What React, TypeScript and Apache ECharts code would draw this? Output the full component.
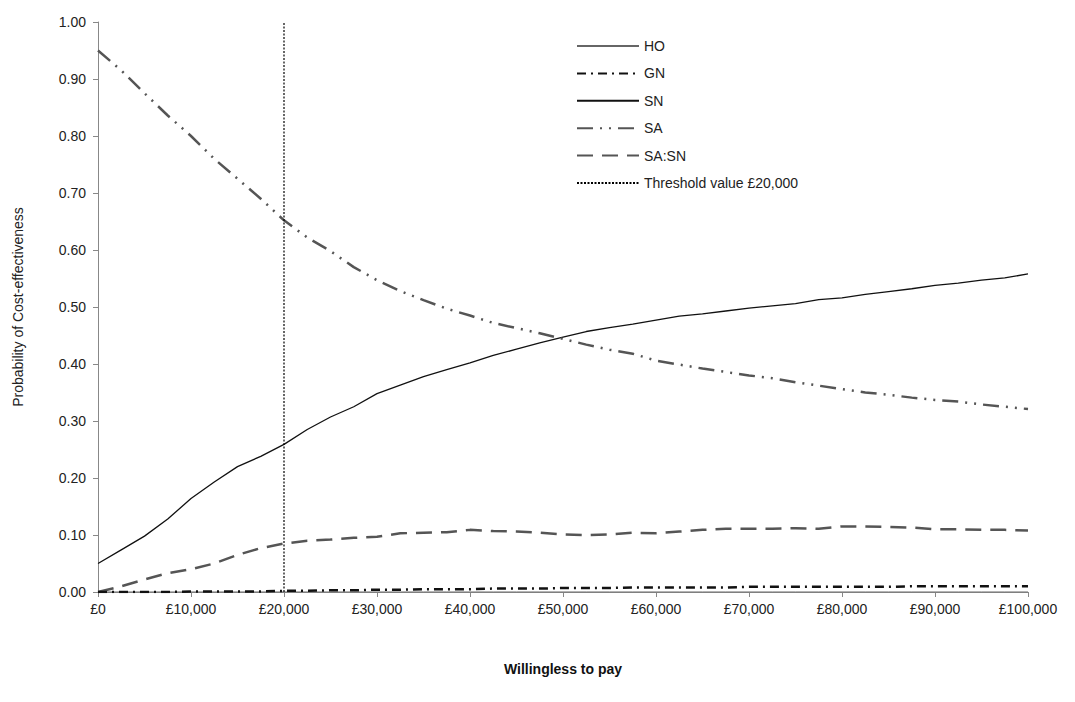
import React, { useEffect, useRef } from "react";
import * as echarts from "echarts";

const wtp = [0, 2500, 5000, 7500, 10000, 12500, 15000, 17500, 20000, 22500, 25000, 27500, 30000, 32500, 35000, 37500, 40000, 42500, 45000, 47500, 50000, 52500, 55000, 57500, 60000, 62500, 65000, 67500, 70000, 72500, 75000, 77500, 80000, 82500, 85000, 87500, 90000, 92500, 95000, 97500, 100000];

const HO = [0, 0, 0, 0, 0, 0, 0, 0, 0, 0, 0, 0, 0, 0, 0, 0, 0, 0, 0, 0, 0, 0, 0, 0, 0, 0, 0, 0, 0, 0, 0, 0, 0, 0, 0, 0, 0, 0, 0, 0, 0];
const GN = [0, 0, 0, 0, 0.001, 0.001, 0.001, 0.001, 0.002, 0.002, 0.003, 0.003, 0.004, 0.004, 0.005, 0.005, 0.005, 0.006, 0.006, 0.006, 0.007, 0.007, 0.007, 0.008, 0.008, 0.008, 0.008, 0.008, 0.009, 0.009, 0.009, 0.009, 0.009, 0.009, 0.009, 0.01, 0.01, 0.01, 0.01, 0.01, 0.01];
const SN = [0.05, 0.074, 0.098, 0.128, 0.164, 0.193, 0.22, 0.238, 0.259, 0.285, 0.307, 0.325, 0.348, 0.363, 0.378, 0.39, 0.402, 0.415, 0.426, 0.437, 0.447, 0.457, 0.464, 0.47, 0.477, 0.484, 0.488, 0.493, 0.498, 0.502, 0.506, 0.513, 0.516, 0.522, 0.527, 0.532, 0.538, 0.542, 0.547, 0.551, 0.558];
const SA = [0.95, 0.915, 0.875, 0.836, 0.8, 0.76, 0.725, 0.69, 0.652, 0.622, 0.598, 0.57, 0.547, 0.528, 0.512, 0.497, 0.485, 0.472, 0.463, 0.454, 0.444, 0.434, 0.425, 0.418, 0.406, 0.399, 0.392, 0.386, 0.38, 0.375, 0.368, 0.362, 0.356, 0.35, 0.346, 0.341, 0.337, 0.334, 0.329, 0.325, 0.321];
const SASN = [0, 0.01, 0.022, 0.033, 0.04, 0.05, 0.065, 0.077, 0.085, 0.09, 0.092, 0.095, 0.097, 0.103, 0.104, 0.105, 0.109, 0.107, 0.106, 0.104, 0.101, 0.1, 0.101, 0.104, 0.103, 0.106, 0.109, 0.111, 0.111, 0.111, 0.112, 0.111, 0.115, 0.115, 0.114, 0.113, 0.11, 0.11, 0.109, 0.109, 0.108];
const thresholdX = [20000, 20000];
const thresholdY = [0, 1];

const pair = (xs: number[], ys: number[]) => xs.map((x, i) => [x, ys[i]]);

const FONT = "'Liberation Sans', Arial, sans-serif";

export default function App() {
  const ref = useRef<HTMLDivElement>(null);
  useEffect(() => {
    if (!ref.current) return;
    const chart = echarts.init(ref.current, undefined, { renderer: "svg" });
    chart.setOption({
      animation: false,
      backgroundColor: "#ffffff",
      textStyle: { fontFamily: FONT },
      grid: { left: 98, right: 47, top: 22, bottom: 110, containLabel: false },
      legend: {
        orient: "vertical",
        left: 571,
        top: 34,
        itemWidth: 62,
        itemHeight: 14,
        itemGap: 13.4,
        itemStyle: { opacity: 0 },
        textStyle: { fontFamily: FONT, fontSize: 14, color: "#222" },
        data: ["HO", "GN", "SN", "SA", "SA:SN", "Threshold value £20,000"],
      },
      xAxis: {
        type: "value",
        min: 0,
        max: 100000,
        interval: 10000,
        name: "Willingless to pay",
        nameLocation: "middle",
        nameGap: 70,
        nameTextStyle: { fontFamily: FONT, fontSize: 14, fontWeight: "bold", color: "#111" },
        axisLine: { show: true, lineStyle: { color: "#888", width: 1 } },
        axisTick: { show: true, length: 5, lineStyle: { color: "#888" } },
        axisLabel: {
          fontFamily: FONT,
          fontSize: 14,
          color: "#222",
          margin: 10,
          formatter: (v: number) => "£" + v.toLocaleString("en-GB"),
        },
        splitLine: { show: false },
      },
      yAxis: {
        type: "value",
        min: 0,
        max: 1,
        interval: 0.1,
        name: "Probability of Cost-effectiveness",
        nameLocation: "middle",
        nameGap: 73,
        nameTextStyle: { fontFamily: FONT, fontSize: 14, color: "#222" },
        axisLine: { show: true, lineStyle: { color: "#888", width: 1 } },
        axisTick: { show: true, length: 5, lineStyle: { color: "#888" } },
        axisLabel: {
          fontFamily: FONT,
          fontSize: 14,
          color: "#222",
          margin: 12,
          formatter: (v: number) => v.toFixed(2),
        },
        splitLine: { show: false },
      },
      series: [
        {
          name: "HO",
          type: "line",
          symbol: "none",
          data: pair(wtp, HO),
          lineStyle: { color: "#666", width: 1 },
          itemStyle: { color: "#666" },
          z: 3,
        },
        {
          name: "GN",
          type: "line",
          symbol: "none",
          data: pair(wtp, GN),
          lineStyle: { color: "#111", width: 2.5, type: [9, 5, 2, 5] },
          itemStyle: { color: "#111" },
          z: 4,
        },
        {
          name: "SN",
          type: "line",
          symbol: "none",
          data: pair(wtp, SN),
          lineStyle: { color: "#111", width: 1.3 },
          itemStyle: { color: "#111" },
        },
        {
          name: "SA",
          type: "line",
          symbol: "none",
          data: pair(wtp, SA),
          lineStyle: { color: "#555", width: 2.5, type: [16, 7, 2, 7, 2, 7] },
          itemStyle: { color: "#555" },
        },
        {
          name: "SA:SN",
          type: "line",
          symbol: "none",
          data: pair(wtp, SASN),
          lineStyle: { color: "#555", width: 2.5, type: [16, 9] },
          itemStyle: { color: "#555" },
        },
        {
          name: "Threshold value £20,000",
          type: "line",
          symbol: "none",
          data: pair(thresholdX, thresholdY),
          lineStyle: { color: "#000", width: 1.2, type: [2, 1.5] },
          itemStyle: { color: "#000" },
        },
      ],
    });
    return () => chart.dispose();
  }, []);
  return <div ref={ref} style={{ width: 1075, height: 702, margin: -8 }} />;
}
